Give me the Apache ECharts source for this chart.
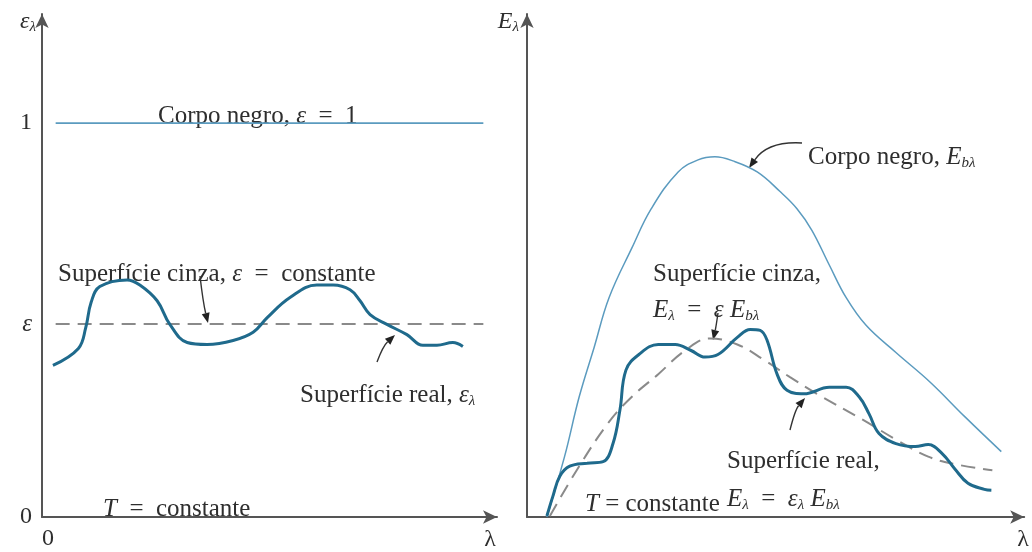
<!DOCTYPE html>
<html>
<head>
<meta charset="utf-8">
<script src="https://cdn.jsdelivr.net/npm/echarts@6/dist/echarts.min.js"></script>
<style>
  html, body { margin: 0; padding: 0; background: #ffffff; }
  #chart { width: 1032px; height: 552px; }
</style>
</head>
<body>
<div id="chart"></div>
<script>
// ---- Left panel: spectral emissivity vs. wavelength (arbitrary λ units 0–100) ----
const blackLambdaL = [3, 97];
const blackEps = [1, 1];
const grayEps = 0.49;              // constant emissivity of the gray surface
const grayLambdaL = [3, 97];
const realLambdaL = [2.4, 8.0, 9.6, 10.8, 12.7, 18.7, 21.5, 25.3, 28.1, 31.9, 36.3, 42.0, 46.4,
  49.5, 54.5, 60.4, 64.0, 67.7, 69.9, 72.1, 75.8, 80.2, 83.7, 86.8, 90.3, 92.5];
const realEpsL = [0.385, 0.428, 0.48, 0.545, 0.585, 0.602, 0.589, 0.549, 0.489, 0.443, 0.438, 0.448, 0.469,
  0.506, 0.557, 0.589, 0.589, 0.577, 0.549, 0.514, 0.489, 0.463, 0.436, 0.436, 0.443, 0.433];
const yTickValuesL = [0, grayEps, 1];
const yTickTextL = ['0', '{i|ε}', '1'];

// ---- Right panel: spectral emissive power vs. wavelength ----
const blackLambdaR = [4.0, 7.55, 10.5, 13.5, 16.5, 21.1, 25.0, 30.4, 34.4, 37.8, 41.4, 46.3, 50.9, 54.3,
  57.3, 60.8, 64.2, 68.2, 74.2, 81.1, 88.1, 95.4];
const blackER = [0, 12.0, 23.9, 33.7, 43.6, 53.5, 61.3, 68.6, 71.0, 71.6, 70.8, 68.6, 64.7, 61.3,
  57.0, 50.1, 43.6, 38.1, 32.7, 26.8, 19.9, 13.0];
const grayLambdaR = [4.6, 10.5, 16.5, 21.1, 26.4, 31.8, 36.8, 42.3, 47.7, 52.9, 58.3, 67.6, 74.2, 80.7, 86.1, 93.6];
const grayER = [0.2, 10.1, 18.9, 23.9, 28.4, 33.1, 35.5, 34.3, 31.2, 27.8, 24.5, 19.3, 15.4, 12.0, 10.5, 9.3];
const realLambdaR = [4.0, 5.2, 6.6, 8.6, 12.1, 15.3, 17.3, 18.7, 19.9, 22.5, 26.4, 29.8, 33.0, 35.8, 38.4,
  42.3, 44.9, 46.9, 48.3, 50.3, 52.3, 55.7, 60.8, 64.2, 66.8, 68.8, 70.8, 74.2, 78.1, 80.7, 83.5,
  86.1, 88.7, 92.0, 93.4];
const realER = [0.2, 4.1, 8.1, 10.1, 10.7, 11.0, 14.6, 21.3, 29.2, 32.3, 34.3, 34.3, 33.1, 31.8, 32.3,
  35.7, 37.3, 37.1, 35.1, 28.4, 25.2, 24.5, 25.8, 25.8, 23.9, 20.5, 16.6, 14.6, 14.0, 14.4, 12.6,
  9.5, 6.7, 5.5, 5.3];

const zip = (xs, ys) => xs.map((x, i) => [x, ys[i]]);

const FONT = '"Liberation Serif", "DejaVu Serif", serif';
const FS = 25;
const TXT = '#2e2e2e';
const AXIS = '#555555';
const BLACK_C = '#5b9bbf';
const REAL_C = '#1f6a8c';
const GRAY_C = '#8a8a8a';
const EQ = '\u2002=\u2002';

const rich = {
  i: { fontFamily: FONT, fontSize: FS, fontStyle: 'italic', color: TXT },
  s: { fontFamily: FONT, fontSize: 15, fontStyle: 'italic', color: TXT, padding: [11, 0, 0, 0] },
  t: { fontFamily: FONT, fontSize: 24, fontStyle: 'italic', color: TXT }
};

function textEl(x, y, str) {
  return {
    type: 'text', left: x, top: y,
    style: { text: str, rich: rich, fontFamily: FONT, fontSize: FS, fill: TXT, verticalAlign: 'middle' }
  };
}

function arrow(p0, c, p1) {
  const dx = p1[0] - c[0], dy = p1[1] - c[1];
  const L = Math.hypot(dx, dy), ux = dx / L, uy = dy / L;
  const hl = 10, hw = 4;
  const bx = p1[0] - ux * hl, by = p1[1] - uy * hl;
  return [
    { type: 'bezierCurve', shape: { x1: p0[0], y1: p0[1], cpx1: c[0], cpy1: c[1], x2: bx, y2: by },
      style: { stroke: '#333', lineWidth: 1.4, fill: null } },
    { type: 'polygon', shape: { points: [[p1[0], p1[1]], [bx - uy * hw, by + ux * hw], [bx + uy * hw, by - ux * hw]] },
      style: { fill: '#222' } }
  ];
}

function axisLineStyle() {
  return { show: true, symbol: ['none', 'arrow'], symbolSize: [10, 14],
    lineStyle: { color: AXIS, width: 2 } };
}

const chart = echarts.init(document.getElementById('chart'), null, { renderer: 'canvas' });

chart.setOption({
  backgroundColor: '#ffffff',
  animation: false,
  grid: [
    { left: 42, top: 14, width: 455, height: 507 },
    { left: 527, top: 14, width: 503, height: 507 }
  ],
  xAxis: [
    {
      gridIndex: 0, type: 'value', min: 0, max: 100,
      axisLine: axisLineStyle(), axisTick: { show: false }, splitLine: { show: false },
      axisLabel: { customValues: [0], align: 'left', margin: 10, fontFamily: FONT, fontSize: 24, color: TXT },
      name: 'λ', nameLocation: 'end', nameGap: -7,
      nameTextStyle: { fontFamily: FONT, fontSize: 24, color: TXT, align: 'center', verticalAlign: 'top', padding: [11, 0, 0, 0] }
    },
    {
      gridIndex: 1, type: 'value', min: 0, max: 100,
      axisLine: axisLineStyle(), axisTick: { show: false }, splitLine: { show: false },
      axisLabel: { show: false },
      name: 'λ', nameLocation: 'end', nameGap: -1,
      nameTextStyle: { fontFamily: FONT, fontSize: 24, color: TXT, align: 'center', verticalAlign: 'top', padding: [11, 0, 0, 0] }
    }
  ],
  yAxis: [
    {
      gridIndex: 0, type: 'value', min: 0, max: 1.277,
      axisLine: axisLineStyle(), axisTick: { show: false }, splitLine: { show: false },
      axisLabel: {
        customValues: yTickValuesL, margin: 10, fontFamily: FONT, fontSize: 24, color: TXT, rich: rich,
        formatter: v => yTickTextL[yTickValuesL.indexOf(v)]
      },
      name: '{t|ε}{s|λ}', nameLocation: 'end', nameGap: -8,
      nameTextStyle: { align: 'right', verticalAlign: 'middle', padding: [0, 6, 0, 0], rich: rich }
    },
    {
      gridIndex: 1, type: 'value', min: 0, max: 100,
      axisLine: axisLineStyle(), axisTick: { show: false }, splitLine: { show: false },
      axisLabel: { show: false },
      name: '{t|E}{s|λ}', nameLocation: 'end', nameGap: -8,
      nameTextStyle: { align: 'right', verticalAlign: 'middle', padding: [0, 8, 0, 0], rich: rich }
    }
  ],
  series: [
    { name: 'Corpo negro', type: 'line', xAxisIndex: 0, yAxisIndex: 0, showSymbol: false,
      data: zip(blackLambdaL, blackEps), lineStyle: { color: BLACK_C, width: 1.6 } },
    { name: 'Superfície cinza', type: 'line', xAxisIndex: 0, yAxisIndex: 0, showSymbol: false,
      data: zip(grayLambdaL, grayLambdaL.map(() => grayEps)),
      lineStyle: { color: GRAY_C, width: 2, type: [14, 8] } },
    { name: 'Superfície real', type: 'line', xAxisIndex: 0, yAxisIndex: 0, showSymbol: false, smooth: 0.4,
      data: zip(realLambdaL, realEpsL), lineStyle: { color: REAL_C, width: 3 } },

    { name: 'Corpo negro E', type: 'line', xAxisIndex: 1, yAxisIndex: 1, showSymbol: false, smooth: 0.4,
      data: zip(blackLambdaR, blackER), lineStyle: { color: BLACK_C, width: 1.5 } },
    { name: 'Superfície cinza E', type: 'line', xAxisIndex: 1, yAxisIndex: 1, showSymbol: false, smooth: 0.4,
      data: zip(grayLambdaR, grayER), lineStyle: { color: GRAY_C, width: 2, type: [14, 8] } },
    { name: 'Superfície real E', type: 'line', xAxisIndex: 1, yAxisIndex: 1, showSymbol: false, smooth: 0.4,
      data: zip(realLambdaR, realER), lineStyle: { color: REAL_C, width: 3 } }
  ],
  graphic: [
    // left panel annotations
    textEl(158, 104, 'Corpo negro, {i|ε}' + EQ + '1'),
    textEl(58, 262, 'Superfície cinza, {i|ε}' + EQ + 'constante'),
    textEl(300, 383, 'Superfície real, {i|ε}{s|λ}'),
    textEl(103, 497, '{i|T}' + EQ + 'constante'),
    ...arrow([200, 276], [203, 302], [208, 323]),
    ...arrow([377, 362], [383, 346], [395, 335]),
    // right panel annotations
    textEl(808, 145, 'Corpo negro, {i|E}{s|bλ}'),
    textEl(653, 262, 'Superfície cinza,'),
    textEl(653, 298, '{i|E}{s|λ}' + EQ + '{i|ε} {i|E}{s|bλ}'),
    textEl(727, 449, 'Superfície real,'),
    textEl(727, 487, '{i|E}{s|λ}' + EQ + '{i|ε}{s|λ} {i|E}{s|bλ}'),
    textEl(585, 492, '{i|T} = constante'),
    ...arrow([802, 143], [768, 141], [749, 168]),
    ...arrow([718, 313], [716, 327], [713, 340]),
    ...arrow([790, 430], [795, 410], [805, 398])
  ]
});
</script>
</body>
</html>
